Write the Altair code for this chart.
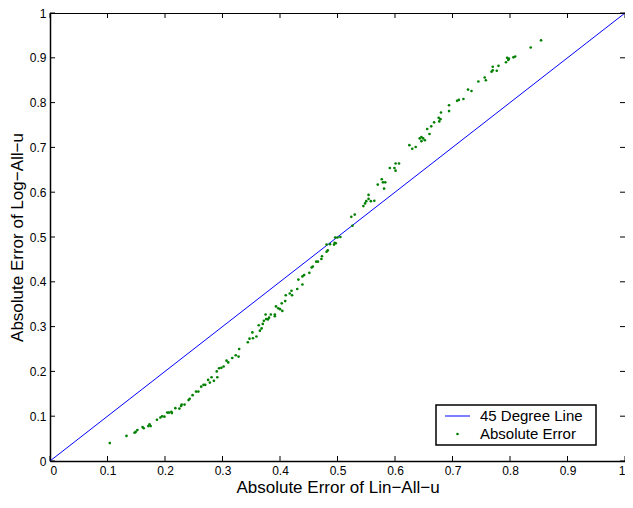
import altair as alt
import pandas as pd

# ---- data ----
err_lin = [0.104, 0.133, 0.147, 0.149, 0.152, 0.161, 0.163, 0.171, 0.173, 0.175,
           0.186, 0.192, 0.195, 0.199, 0.204, 0.207, 0.211, 0.212, 0.218, 0.225,
           0.228, 0.229, 0.234, 0.241, 0.243, 0.248, 0.254, 0.258, 0.263, 0.267,
           0.270, 0.275, 0.278, 0.281, 0.285, 0.290, 0.291, 0.294, 0.298, 0.302,
           0.307, 0.310, 0.317, 0.323, 0.328, 0.329, 0.344, 0.347, 0.353, 0.352,
           0.359, 0.363, 0.365, 0.368, 0.370, 0.372, 0.375, 0.376, 0.379, 0.381,
           0.384, 0.391, 0.391, 0.393, 0.397, 0.400, 0.404, 0.403, 0.409, 0.410,
           0.417, 0.420, 0.421, 0.430, 0.439, 0.432, 0.439, 0.442, 0.451, 0.455,
           0.457, 0.463, 0.466, 0.472, 0.473, 0.481, 0.483, 0.481, 0.487, 0.494,
           0.495, 0.497, 0.496, 0.500, 0.505, 0.526, 0.524, 0.530, 0.545, 0.548,
           0.550, 0.554, 0.554, 0.558, 0.564, 0.570, 0.577, 0.579, 0.583, 0.581,
           0.591, 0.599, 0.601, 0.601, 0.607, 0.625, 0.630, 0.636, 0.643, 0.646,
           0.646, 0.649, 0.652, 0.656, 0.660, 0.663, 0.668, 0.676, 0.677, 0.679,
           0.680, 0.694, 0.694, 0.708, 0.711, 0.719, 0.727, 0.733, 0.745, 0.756,
           0.758, 0.768, 0.770, 0.770, 0.777, 0.780, 0.793, 0.795, 0.797, 0.798,
           0.806, 0.809, 0.836, 0.854]
err_log = [0.040, 0.056, 0.063, 0.065, 0.069, 0.076, 0.073, 0.078, 0.082, 0.078,
           0.092, 0.097, 0.100, 0.099, 0.108, 0.108, 0.110, 0.107, 0.118, 0.117,
           0.123, 0.126, 0.126, 0.136, 0.139, 0.147, 0.155, 0.155, 0.166, 0.170,
           0.170, 0.181, 0.175, 0.187, 0.179, 0.200, 0.187, 0.207, 0.208, 0.211,
           0.224, 0.220, 0.230, 0.236, 0.233, 0.250, 0.265, 0.273, 0.274, 0.287,
           0.278, 0.303, 0.291, 0.296, 0.306, 0.313, 0.327, 0.317, 0.316, 0.320,
           0.327, 0.327, 0.323, 0.345, 0.341, 0.339, 0.335, 0.352, 0.357, 0.370,
           0.374, 0.380, 0.370, 0.384, 0.394, 0.405, 0.412, 0.415, 0.420, 0.432,
           0.434, 0.445, 0.445, 0.451, 0.457, 0.467, 0.470, 0.483, 0.484, 0.483,
           0.487, 0.486, 0.499, 0.499, 0.500, 0.525, 0.545, 0.550, 0.569, 0.575,
           0.580, 0.594, 0.585, 0.580, 0.581, 0.617, 0.629, 0.622, 0.622, 0.608,
           0.654, 0.654, 0.664, 0.648, 0.664, 0.705, 0.697, 0.701, 0.720, 0.723,
           0.714, 0.720, 0.716, 0.741, 0.730, 0.747, 0.756, 0.766, 0.758, 0.763,
           0.778, 0.794, 0.781, 0.804, 0.806, 0.808, 0.829, 0.826, 0.847, 0.856,
           0.850, 0.869, 0.872, 0.880, 0.871, 0.882, 0.890, 0.900, 0.895, 0.898,
           0.901, 0.903, 0.923, 0.939]
diag_x = [0.0, 1.0]
diag_y = [0.0, 1.0]
tick_vals = [0, 0.1, 0.2, 0.3, 0.4, 0.5, 0.6, 0.7, 0.8, 0.9, 1]
legend_labels = ["45 Degree Line", "Absolute Error"]
x_title = "Absolute Error of Lin\u2212All\u2212u"
y_title = "Absolute Error of Log\u2212All\u2212u"

# ---- frames ----
pts = pd.DataFrame({"x": err_lin, "y": err_log})
diag = pd.DataFrame({"x": diag_x, "y": diag_y})
ticks = pd.DataFrame({"x": tick_vals, "y": tick_vals})

W, H = 575, 448
PAD = {"left": 42, "top": 5, "right": 0, "bottom": 39}
FONT = "Liberation Sans"
BLUE = "#0000ff"
GREEN = "#008000"

xs = alt.Scale(domain=[0, 1], nice=False, zero=False)
ys = alt.Scale(domain=[0, 1], nice=False, zero=False)
xaxis = alt.Axis(values=tick_vals, format="~g", title=x_title, grid=False,
                 ticks=False, labelPadding=4, titlePadding=3,
                 domainColor="black", domainWidth=1.5)
yaxis = alt.Axis(values=tick_vals, format="~g", title=y_title, grid=False,
                 ticks=False, labelPadding=4, titlePadding=3,
                 domainColor="black", domainWidth=1.5)
X = alt.X("x:Q", scale=xs, axis=xaxis)
Y = alt.Y("y:Q", scale=ys, axis=yaxis)

line = alt.Chart(diag).mark_line(color=BLUE, strokeWidth=1).encode(x=X, y=Y)
dots = alt.Chart(pts).mark_circle(color=GREEN, size=7, opacity=1).encode(x=X, y=Y)

TL = 5
tb = alt.Chart(ticks).mark_rule(color="black", strokeWidth=1).encode(
    x=X, y=alt.value(H), y2=alt.value(H - TL))
tt = alt.Chart(ticks).mark_rule(color="black", strokeWidth=1).encode(
    x=X, y=alt.value(0), y2=alt.value(TL))
tl = alt.Chart(ticks).mark_rule(color="black", strokeWidth=1).encode(
    y=Y, x=alt.value(0), x2=alt.value(TL))
tr = alt.Chart(ticks).mark_rule(color="black", strokeWidth=1).encode(
    y=Y, x=alt.value(W - TL), x2=alt.value(W))

# ---- legend box (chrome, lower right of the plot) ----
LX, LY, LW, LH = 386, 392, 160, 40
one = pd.DataFrame({"label": [legend_labels[0]]})
two = pd.DataFrame({"label": [legend_labels[1]]})
box = alt.Chart(one).mark_rect(fill="white", stroke="black", strokeWidth=1.5).encode(
    x=alt.value(LX), x2=alt.value(LX + LW), y=alt.value(LY), y2=alt.value(LY + LH))
lg_line = alt.Chart(one).mark_rule(color=BLUE, strokeWidth=1).encode(
    x=alt.value(LX + 9), x2=alt.value(LX + 34), y=alt.value(LY + 11))
lg_dot = alt.Chart(two).mark_circle(color=GREEN, size=7, opacity=1).encode(
    x=alt.value(LX + 21.5), y=alt.value(LY + 29))
lg_t1 = alt.Chart(one).mark_text(align="left", baseline="middle", font=FONT,
                                 fontSize=15, color="black").encode(
    x=alt.value(LX + 44), y=alt.value(LY + 11), text="label:N")
lg_t2 = alt.Chart(two).mark_text(align="left", baseline="middle", font=FONT,
                                 fontSize=15, color="black").encode(
    x=alt.value(LX + 44), y=alt.value(LY + 29), text="label:N")

chart = alt.layer(line, dots, tb, tt, tl, tr, box, lg_line, lg_dot, lg_t1, lg_t2).properties(
    width=W, height=H,
    autosize=alt.AutoSizeParams(type="none"),
    padding=PAD,
    background="white",
).configure_view(stroke="black", strokeWidth=1).configure_axis(
    labelFont=FONT, labelFontSize=12, labelColor="black",
    titleFont=FONT, titleFontSize=17, titleFontWeight="normal", titleColor="black",
)

chart.save("out.html", embed_options={"renderer": "svg", "actions": False})
